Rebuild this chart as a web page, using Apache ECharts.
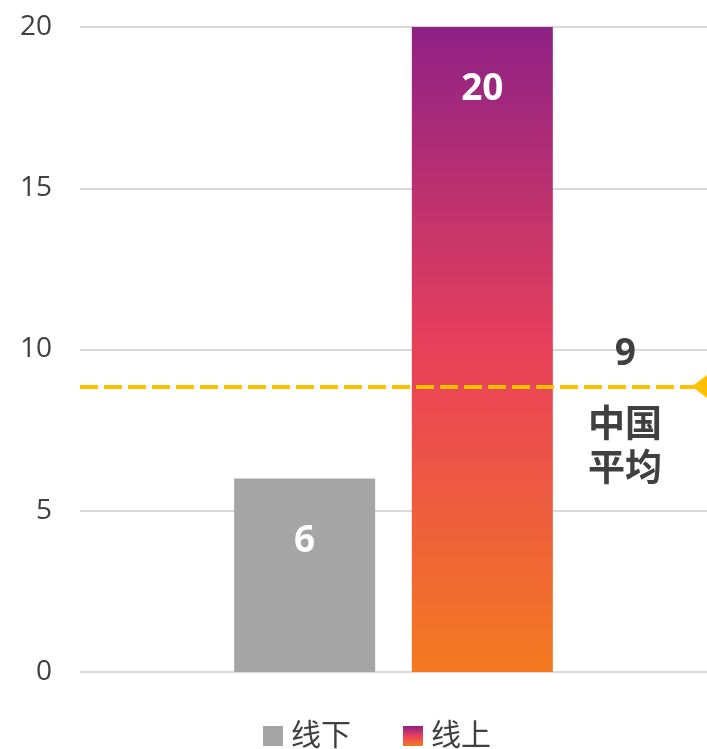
<!DOCTYPE html>
<html>
<head>
<meta charset="utf-8">
<script src="https://cdn.jsdelivr.net/npm/echarts@6/dist/echarts.min.js"></script>
<style>
  html, body { margin: 0; padding: 0; background: #fff; }
  #chart { width: 707px; height: 749px; }
</style>
</head>
<body>
<div id="chart"></div>
<script>
// Data
var categories = [''];
var seriesNames = ['线下', '线上'];
var offlineValues = [6];
var onlineValues = [20];
var averageValue = 8.85;
var averageName = '中国\n平均';
var yTicks = { min: 0, max: 20, interval: 5 };

var textColor = '#404040';
var fontStack = '"Open Sans", "Noto Sans CJK SC", sans-serif';

var onlineGradient = new echarts.graphic.LinearGradient(0, 0, 0, 1, [
  { offset: 0, color: '#8E2186' },
  { offset: 0.5, color: '#E8405A' },
  { offset: 1, color: '#F47A20' }
]);

var barLabel = {
  show: true,
  position: 'insideTop',
  distance: 44,
  color: '#fff',
  fontWeight: 'bold',
  fontSize: 37,
  fontFamily: fontStack
};

var chart = echarts.init(document.getElementById('chart'), null, { renderer: 'canvas' });

chart.setOption({
  animation: false,
  grid: { left: 80, right: 0, top: 27, bottom: 77 },
  legend: {
    top: 716,
    left: 258,
    itemWidth: 20,
    itemHeight: 20,
    itemGap: 52,
    icon: 'rect',
    textStyle: { color: textColor, fontSize: 30, fontFamily: fontStack, padding: [0, 0, 0, 3] },
    data: seriesNames
  },
  xAxis: {
    type: 'category',
    data: categories,
    axisLine: { show: false },
    axisTick: { show: false },
    axisLabel: { show: false }
  },
  yAxis: {
    type: 'value',
    min: yTicks.min,
    max: yTicks.max,
    interval: yTicks.interval,
    axisLine: { show: false },
    axisTick: { show: false },
    axisLabel: { color: textColor, fontSize: 28, margin: 28, fontFamily: fontStack },
    splitLine: { lineStyle: { color: '#d9d9d9', width: 2 } }
  },
  series: [
    {
      name: seriesNames[0],
      type: 'bar',
      data: offlineValues,
      barWidth: 141,
      barGap: '26%',
      itemStyle: { color: '#A5A5A5' },
      label: barLabel
    },
    {
      name: seriesNames[1],
      type: 'bar',
      data: onlineValues,
      barWidth: 141,
      barGap: '26%',
      itemStyle: { color: onlineGradient },
      label: barLabel,
      markLine: {
        silent: true,
        symbol: ['none', 'path://M0,0L46,0L23,30Z'],
        symbolSize: 46,
        symbolKeepAspect: true,
        lineStyle: { color: '#FFC000', type: [18, 6], width: 4 },
        data: [
          {
            yAxis: averageValue,
            label: {
              show: true,
              position: 'insideEndTop',
              distance: [71, 14],
              formatter: function (p) { return Math.round(p.value).toString(); },
              color: textColor,
              fontWeight: 'bold',
              fontSize: 37,
              fontFamily: fontStack
            }
          },
          {
            yAxis: averageValue,
            symbol: 'none',
            lineStyle: { color: 'rgba(0,0,0,0)', width: 0 },
            label: {
              show: true,
              position: 'insideEndBottom',
              distance: [45, 18],
              formatter: averageName,
              color: textColor,
              fontWeight: 'bold',
              fontSize: 37,
              lineHeight: 44,
              fontFamily: fontStack
            }
          }
        ]
      }
    }
  ]
});
</script>
</body>
</html>
